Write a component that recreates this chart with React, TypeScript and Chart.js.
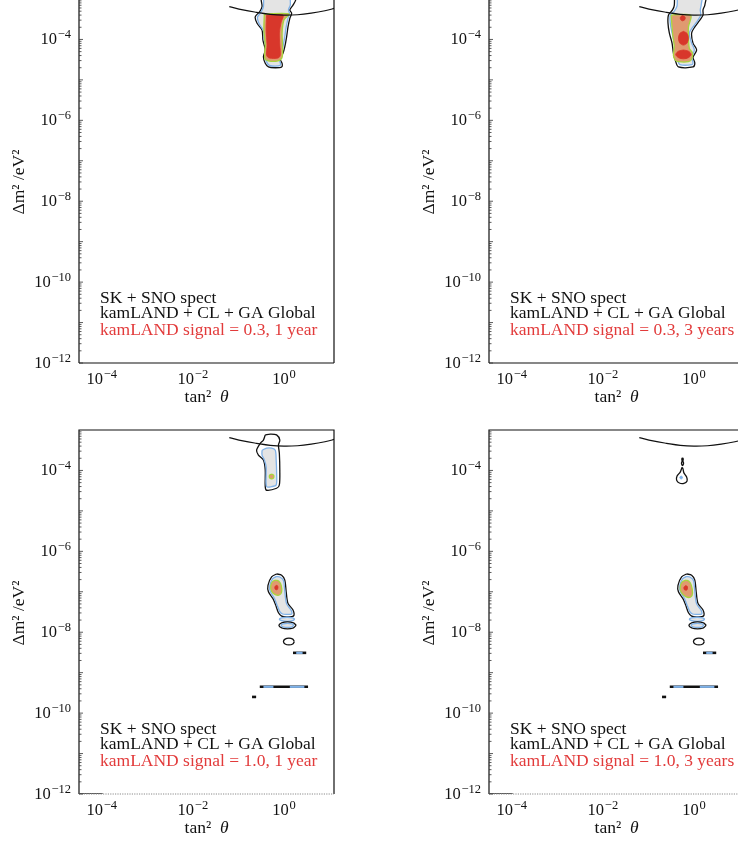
import React, { useEffect, useRef } from 'react';
import { Chart, registerables } from 'chart.js';

Chart.register(...registerables);

// Every point is [log10(tan² θ), log10(Δm² / eV²)]
type P = [number, number];

const X_RANGE_LOG: P = [-4.5, 1.1];
const Y_RANGE_LOG: P = [-12, -3];
const X_TICK_EXP = [-4, -2, 0];
const Y_TICK_EXP = [-4, -6, -8, -10, -12];
const LEGEND_LINES = ['SK + SNO spect', 'kamLAND + CL + GA Global'];
const SIGNAL_LABELS = [
  'kamLAND signal = 0.3, 1 year',
  'kamLAND signal = 0.3, 3 years',
  'kamLAND signal = 1.0, 1 year',
  'kamLAND signal = 1.0, 3 years',
];

// CHOOZ-type exclusion curve (same in every panel)
const choozCurve: P[] = [
  [-1.2, -3.19], [-0.9, -3.27], [-0.6, -3.33], [-0.3, -3.38], [0.0, -3.4],
  [0.3, -3.39], [0.6, -3.35], [0.9, -3.29], [1.15, -3.22],
];

// ---- Panel A: signal 0.3, 1 year
const aBlack: P[] = [
  [-0.5, -2.8], [-0.5, -3.02], [-0.48, -3.19], [-0.53, -3.31], [-0.63, -3.44], [-0.59, -3.6],
  [-0.48, -3.77], [-0.46, -4.02], [-0.41, -4.26], [-0.45, -4.43], [-0.41, -4.59], [-0.34, -4.68],
  [-0.19, -4.7], [-0.05, -4.68], [-0.04, -4.59], [-0.09, -4.47], [-0.02, -4.34], [0.02, -4.18],
  [0.06, -3.93], [0.09, -3.69], [0.13, -3.48], [0.17, -3.35], [0.13, -3.27], [0.2, -3.15],
  [0.26, -3.02], [0.28, -2.8],
];
const aBlue: P[] = [
  [-0.45, -2.8], [-0.45, -3.19], [-0.5, -3.32], [-0.58, -3.45], [-0.55, -3.6], [-0.45, -3.78],
  [-0.43, -4.02], [-0.38, -4.26], [-0.41, -4.43], [-0.37, -4.58], [-0.32, -4.64], [-0.19, -4.66],
  [-0.08, -4.64], [-0.08, -4.57], [-0.12, -4.46], [-0.05, -4.33], [-0.02, -4.18], [0.02, -3.93],
  [0.05, -3.69], [0.09, -3.48], [0.12, -3.35], [0.1, -3.27], [0.14, -3.15], [0.14, -3.02], [0.15, -2.8],
];
const aGreen: P[] = [
  [-0.43, -3.37], [-0.44, -3.77], [-0.41, -4.14], [-0.42, -4.46], [-0.34, -4.53], [-0.13, -4.53],
  [-0.04, -4.44], [-0.03, -4.14], [-0.04, -3.84], [0.0, -3.52], [0.11, -3.37],
];
const aRed: P[] = [
  [-0.38, -3.4], [-0.39, -3.77], [-0.37, -4.14], [-0.38, -4.39], [-0.32, -4.46], [-0.13, -4.46],
  [-0.08, -4.39], [-0.09, -4.14], [-0.1, -3.84], [-0.06, -3.57], [-0.02, -3.4],
];

// ---- Panel B: signal 0.3, 3 years
const bBlack: P[] = [
  [-0.43, -2.8], [-0.43, -3.15], [-0.47, -3.27], [-0.56, -3.4], [-0.57, -3.59], [-0.54, -3.84],
  [-0.48, -4.09], [-0.45, -4.34], [-0.41, -4.51], [-0.34, -4.68], [-0.02, -4.68], [0.02, -4.58],
  [-0.02, -4.44], [0.06, -4.26], [-0.02, -4.09], [-0.05, -3.84], [0.02, -3.69], [0.13, -3.52],
  [0.2, -3.4], [0.2, -3.27], [0.24, -3.15], [0.26, -2.8],
];
const bBlue: P[] = [
  [-0.37, -2.8], [-0.37, -3.17], [-0.43, -3.3], [-0.52, -3.4], [-0.52, -3.59], [-0.48, -3.84],
  [-0.43, -4.09], [-0.4, -4.34], [-0.36, -4.5], [-0.31, -4.62], [-0.04, -4.62], [-0.02, -4.56],
  [-0.05, -4.44], [0.01, -4.26], [-0.05, -4.09], [-0.1, -3.84], [-0.02, -3.69], [0.09, -3.52],
  [0.15, -3.4], [0.14, -3.27], [0.16, -3.15], [0.17, -2.8],
];
const bGreen: P[] = [
  [-0.5, -3.4], [-0.48, -3.69], [-0.46, -3.93], [-0.43, -4.18], [-0.45, -4.39], [-0.41, -4.51],
  [-0.34, -4.55], [-0.12, -4.55], [-0.05, -4.49], [-0.03, -4.34], [-0.1, -4.22], [-0.12, -3.93],
  [-0.12, -3.69], [-0.07, -3.4],
];
const bRed1: P[] = [
  [-0.25, -3.41], [-0.2, -3.44], [-0.19, -3.47], [-0.2, -3.51], [-0.25, -3.54], [-0.29, -3.51],
  [-0.3, -3.47], [-0.29, -3.44],
];
const bRed2: P[] = [
  [-0.23, -3.8], [-0.15, -3.85], [-0.12, -3.97], [-0.15, -4.09], [-0.23, -4.14], [-0.31, -4.09],
  [-0.34, -3.97], [-0.31, -3.85],
];
const bRed3: P[] = [
  [-0.23, -4.26], [-0.12, -4.29], [-0.06, -4.37], [-0.12, -4.45], [-0.23, -4.48], [-0.34, -4.45],
  [-0.4, -4.37], [-0.34, -4.29],
];

// ---- Panel C: signal 1.0, 1 year
const cUpperBlack: P[] = [
  [-0.41, -3.12], [-0.3, -3.1], [-0.16, -3.12], [-0.09, -3.25], [-0.12, -3.37], [-0.1, -3.58],
  [-0.09, -3.99], [-0.1, -4.36], [-0.16, -4.44], [-0.38, -4.49], [-0.41, -4.4], [-0.41, -3.99],
  [-0.45, -3.74], [-0.56, -3.62], [-0.6, -3.5], [-0.52, -3.33], [-0.45, -3.25],
];
const cUpperBlue: P[] = [
  [-0.48, -3.5], [-0.38, -3.45], [-0.27, -3.45], [-0.19, -3.5], [-0.17, -3.74], [-0.16, -4.07],
  [-0.17, -4.36], [-0.27, -4.4], [-0.38, -4.4], [-0.39, -4.07], [-0.39, -3.91], [-0.43, -3.74],
  [-0.48, -3.62],
];
const cUpperGreen: P[] = [
  [-0.27, -4.09], [-0.23, -4.11], [-0.22, -4.15], [-0.23, -4.19], [-0.27, -4.21], [-0.31, -4.19],
  [-0.32, -4.15], [-0.31, -4.11],
];
const cLowerGreen: P[] = [
  [-0.17, -6.71], [-0.25, -6.75], [-0.29, -6.86], [-0.27, -6.99], [-0.19, -7.07], [-0.1, -7.08],
  [-0.05, -7.0], [-0.06, -6.84], [-0.11, -6.74],
];
const cLowerOrange: P[] = [
  [-0.17, -6.76], [-0.23, -6.8], [-0.25, -6.89], [-0.23, -6.98], [-0.17, -7.02], [-0.11, -7.0],
  [-0.09, -6.9], [-0.11, -6.8],
];
const cLowerRed: P[] = [
  [-0.17, -6.84], [-0.2, -6.88], [-0.19, -6.94], [-0.15, -6.95], [-0.13, -6.9], [-0.14, -6.85],
];

// ---- Panel D: signal 1.0, 3 years
const dTear: P[] = [
  [-0.26, -3.92], [-0.3, -4.04], [-0.37, -4.14], [-0.38, -4.24], [-0.32, -4.31], [-0.22, -4.32],
  [-0.15, -4.26], [-0.16, -4.16], [-0.22, -4.06], [-0.24, -3.96],
];
const dStem: P[] = [
  [-0.25, -3.77], [-0.23, -3.8], [-0.23, -3.84], [-0.25, -3.88], [-0.27, -3.84], [-0.27, -3.8],
];
const dDot: P[] = [[-0.25, -3.71], [-0.25, -3.74]];
const dBlueSpot: P[] = [
  [-0.28, -4.14], [-0.26, -4.15], [-0.25, -4.17], [-0.26, -4.2], [-0.28, -4.21], [-0.3, -4.2],
  [-0.31, -4.17], [-0.3, -4.15],
];
const dLowerGreen: P[] = [
  [-0.17, -6.71], [-0.26, -6.76], [-0.3, -6.88], [-0.28, -7.01], [-0.18, -7.12], [-0.07, -7.13],
  [-0.03, -7.03], [-0.06, -6.83], [-0.11, -6.74],
];
const dLowerOrange: P[] = [
  [-0.18, -6.78], [-0.24, -6.82], [-0.26, -6.91], [-0.23, -7.0], [-0.16, -7.04], [-0.1, -7.0],
  [-0.09, -6.9], [-0.12, -6.8],
];
const dLowerRed: P[] = [
  [-0.19, -6.85], [-0.22, -6.89], [-0.21, -6.95], [-0.16, -6.96], [-0.14, -6.91], [-0.15, -6.86],
];

// ---- Shared low-Δm² structures of the signal = 1.0 panels
const sig10LowerBlack: P[] = [
  [-0.16, -6.56], [-0.27, -6.63], [-0.35, -6.84], [-0.34, -7.0], [-0.24, -7.17], [-0.18, -7.33],
  [-0.12, -7.52], [-0.05, -7.6], [0.06, -7.62], [0.21, -7.6], [0.2, -7.45], [0.09, -7.29],
  [0.05, -7.0], [0.02, -6.71], [-0.05, -6.59],
];
const sig10LowerBlue: P[] = [
  [-0.16, -6.62], [-0.25, -6.68], [-0.31, -6.85], [-0.3, -6.99], [-0.21, -7.16], [-0.15, -7.33],
  [-0.09, -7.49], [-0.03, -7.55], [0.06, -7.56], [0.17, -7.55], [0.16, -7.46], [0.06, -7.3],
  [0.02, -7.0], [-0.01, -6.72], [-0.08, -6.64],
];
const sig10Ellipse1: P[] = [
  [0.24, -7.68], [0.19, -7.645], [0.07, -7.63], [-0.05, -7.645], [-0.1, -7.68], [-0.05, -7.715],
  [0.07, -7.73], [0.19, -7.715],
];
const sig10Ellipse2Black: P[] = [
  [0.27, -7.83], [0.21, -7.77], [0.08, -7.745], [-0.05, -7.77], [-0.11, -7.83], [-0.05, -7.89],
  [0.08, -7.915], [0.21, -7.89],
];
const sig10Ellipse2Blue: P[] = [
  [0.22, -7.83], [0.18, -7.795], [0.08, -7.78], [-0.02, -7.795], [-0.06, -7.83], [-0.02, -7.865],
  [0.08, -7.88], [0.18, -7.865],
];
const sig10Ellipse3Black: P[] = [
  [0.23, -8.23], [0.195, -8.17], [0.11, -8.145], [0.025, -8.17], [-0.01, -8.23], [0.025, -8.29],
  [0.11, -8.315], [0.195, -8.29],
];
const sig10ShortBar: P[] = [[0.2, -8.51], [0.49, -8.51]];
const sig10ShortBarBlue: P[] = [[0.27, -8.51], [0.41, -8.51]];
const sig10LongBar: P[] = [[-0.53, -9.35], [0.53, -9.35]];
const sig10LongBarBlue1: P[] = [[-0.45, -9.35], [-0.23, -9.35]];
const sig10LongBarBlue2: P[] = [[0.13, -9.35], [0.45, -9.35]];
const sig10Dash: P[] = [[-0.7, -9.6], [-0.61, -9.6]];
const sig10EdgeSegment: P[] = [[-4.5, -12], [-3.98, -12]];

type Kind = 'black' | 'blue' | 'blueSolid' | 'green' | 'orange' | 'red' | 'curve' | 'bar' | 'barBlue' | 'edge';
type Layer = { pts: P[]; kind: Kind };

const BLUE = '#80b2e8';
const GREY = '#e4e4e4';
const GREEN = '#a8d43c';
const SALMON = '#e09a70';
const RED = '#d8372b';

const STYLES: Record<Kind, { borderColor: string; borderWidth: number; bg?: string; fill: any; closed: boolean; tension: number }> = {
  black: { borderColor: '#111111', borderWidth: 1.3, fill: false, closed: true, tension: 0.3 },
  blue: { borderColor: BLUE, borderWidth: 1.3, bg: GREY, fill: 'shape', closed: true, tension: 0.3 },
  blueSolid: { borderColor: BLUE, borderWidth: 1, bg: BLUE, fill: 'shape', closed: true, tension: 0.3 },
  green: { borderColor: GREEN, borderWidth: 1.3, bg: SALMON, fill: 'shape', closed: true, tension: 0.3 },
  orange: { borderColor: SALMON, borderWidth: 0.8, bg: SALMON, fill: 'shape', closed: true, tension: 0.3 },
  red: { borderColor: RED, borderWidth: 0.8, bg: RED, fill: 'shape', closed: true, tension: 0.3 },
  curve: { borderColor: '#111111', borderWidth: 1.2, fill: false, closed: false, tension: 0.4 },
  bar: { borderColor: '#111111', borderWidth: 2.6, fill: false, closed: false, tension: 0 },
  barBlue: { borderColor: BLUE, borderWidth: 2.2, fill: false, closed: false, tension: 0 },
  edge: { borderColor: '#111111', borderWidth: 1.4, fill: false, closed: false, tension: 0 },
};

type PanelCfg = { left: number; top: number; label: string; dottedBottom: boolean; layers: Layer[] };

const sig10Layers = (green: P[], orange: P[], red: P[]): Layer[] => [
  { pts: sig10LowerBlack, kind: 'black' },
  { pts: sig10LowerBlue, kind: 'blue' },
  { pts: green, kind: 'green' },
  { pts: orange, kind: 'orange' },
  { pts: red, kind: 'red' },
  { pts: sig10Ellipse1, kind: 'blue' },
  { pts: sig10Ellipse2Black, kind: 'black' },
  { pts: sig10Ellipse2Blue, kind: 'blue' },
  { pts: sig10Ellipse3Black, kind: 'black' },
  { pts: sig10ShortBar, kind: 'bar' },
  { pts: sig10ShortBarBlue, kind: 'barBlue' },
  { pts: sig10LongBar, kind: 'bar' },
  { pts: sig10LongBarBlue1, kind: 'barBlue' },
  { pts: sig10LongBarBlue2, kind: 'barBlue' },
  { pts: sig10Dash, kind: 'bar' },
  { pts: sig10EdgeSegment, kind: 'edge' },
];

const PANELS: PanelCfg[] = [
  {
    left: 0, top: -20, label: SIGNAL_LABELS[0], dottedBottom: false,
    layers: [
      { pts: aBlack, kind: 'black' },
      { pts: aBlue, kind: 'blue' },
      { pts: aGreen, kind: 'green' },
      { pts: aRed, kind: 'red' },
      { pts: choozCurve, kind: 'curve' },
    ],
  },
  {
    left: 410, top: -20, label: SIGNAL_LABELS[1], dottedBottom: false,
    layers: [
      { pts: bBlack, kind: 'black' },
      { pts: bBlue, kind: 'blue' },
      { pts: bGreen, kind: 'green' },
      { pts: bRed1, kind: 'red' },
      { pts: bRed2, kind: 'red' },
      { pts: bRed3, kind: 'red' },
      { pts: choozCurve, kind: 'curve' },
    ],
  },
  {
    left: 0, top: 411, label: SIGNAL_LABELS[2], dottedBottom: true,
    layers: [
      { pts: cUpperBlack, kind: 'black' },
      { pts: cUpperBlue, kind: 'blue' },
      { pts: cUpperGreen, kind: 'green' },
      ...sig10Layers(cLowerGreen, cLowerOrange, cLowerRed),
      { pts: choozCurve, kind: 'curve' },
    ],
  },
  {
    left: 410, top: 411, label: SIGNAL_LABELS[3], dottedBottom: true,
    layers: [
      { pts: dTear, kind: 'black' },
      { pts: dStem, kind: 'black' },
      { pts: dDot, kind: 'bar' },
      { pts: dBlueSpot, kind: 'blueSolid' },
      ...sig10Layers(dLowerGreen, dLowerOrange, dLowerRed),
      { pts: choozCurve, kind: 'curve' },
    ],
  },
];

const toData = (pts: P[], closed: boolean) => {
  const d = pts.map(([lx, ly]) => ({ x: Math.pow(10, lx), y: Math.pow(10, ly) }));
  if (closed && d.length > 2) d.push({ ...d[0] });
  return d;
};

const SERIF = "'Liberation Serif', 'Times New Roman', serif";
const BASE_FONT = `16.5px ${SERIF}`;
const EXP_FONT = `12.5px ${SERIF}`;

function drawPow(ctx: CanvasRenderingContext2D, exp: number, x: number, baseline: number, align: 'right' | 'center') {
  const expStr = exp < 0 ? '\u2212' + String(-exp) : String(exp);
  ctx.font = BASE_FONT;
  const wb = ctx.measureText('10').width;
  ctx.font = EXP_FONT;
  const we = ctx.measureText(expStr).width;
  const gap = 0.8;
  const total = wb + gap + we;
  const x0 = align === 'right' ? x - total : x - total / 2;
  ctx.textAlign = 'left';
  ctx.textBaseline = 'alphabetic';
  ctx.font = BASE_FONT;
  ctx.fillText('10', x0, baseline);
  ctx.font = EXP_FONT;
  ctx.fillText(expStr, x0 + wb + gap, baseline - 6.5);
}

function decorPlugin(cfg: PanelCfg) {
  return {
    id: 'decor',
    afterDraw(chart: any) {
      const { ctx, chartArea: a, scales } = chart;
      const xs = scales.x;
      const ys = scales.y;
      ctx.save();
      // frame
      ctx.setLineDash([]);
      ctx.strokeStyle = '#111111';
      ctx.lineWidth = 1.2;
      ctx.beginPath();
      ctx.moveTo(a.left, a.bottom);
      ctx.lineTo(a.left, a.top);
      ctx.lineTo(a.right, a.top);
      ctx.lineTo(a.right, a.bottom);
      ctx.stroke();
      ctx.beginPath();
      if (cfg.dottedBottom) {
        ctx.strokeStyle = '#8a8a8a';
        ctx.lineWidth = 1;
        ctx.setLineDash([1.2, 1.2]);
      }
      ctx.moveTo(a.left, a.bottom);
      ctx.lineTo(a.right, a.bottom);
      ctx.stroke();
      ctx.setLineDash([]);

      // inward log ticks on the left spine
      ctx.strokeStyle = '#333333';
      ctx.lineWidth = 0.8;
      for (let e = Y_RANGE_LOG[0]; e < Y_RANGE_LOG[1]; e++) {
        for (let k = 1; k <= 9; k++) {
          const py = ys.getPixelForValue(k * Math.pow(10, e));
          const len = k === 1 ? 4 : 2.5;
          ctx.beginPath();
          ctx.moveTo(a.left, py);
          ctx.lineTo(a.left + len, py);
          ctx.stroke();
        }
      }

      // tick labels
      ctx.fillStyle = '#111111';
      for (const e of Y_TICK_EXP) {
        const py = ys.getPixelForValue(Math.pow(10, e));
        drawPow(ctx, e, a.left - 8, py + 5, 'right');
      }
      for (const e of X_TICK_EXP) {
        const px = xs.getPixelForValue(Math.pow(10, e));
        drawPow(ctx, e, px, a.bottom + 21, 'center');
      }

      // axis titles
      ctx.font = `17.5px ${SERIF}`;
      ctx.textBaseline = 'middle';
      ctx.textAlign = 'center';
      ctx.save();
      ctx.translate(a.left - 60, (a.top + a.bottom) / 2 + 1);
      ctx.rotate(-Math.PI / 2);
      ctx.fillText('\u0394m\u00B2 /eV\u00B2', 0, 0);
      ctx.restore();

      const part1 = 'tan\u00B2  ';
      const part2 = '\u03B8';
      ctx.font = `17.5px ${SERIF}`;
      const w1 = ctx.measureText(part1).width;
      ctx.font = `italic 17.5px ${SERIF}`;
      const w2 = ctx.measureText(part2).width;
      const cx = (a.left + a.right) / 2;
      const x0 = cx - (w1 + w2) / 2;
      ctx.textAlign = 'left';
      ctx.font = `17.5px ${SERIF}`;
      ctx.fillText(part1, x0, a.bottom + 34);
      ctx.font = `italic 17.5px ${SERIF}`;
      ctx.fillText(part2, x0 + w1, a.bottom + 34);

      // in-plot annotation
      ctx.font = `17.5px ${SERIF}`;
      ctx.textAlign = 'left';
      ctx.textBaseline = 'middle';
      ctx.fillStyle = '#111111';
      ctx.fillText(LEGEND_LINES[0], a.left + 21, a.bottom - 65);
      ctx.fillText(LEGEND_LINES[1], a.left + 21, a.bottom - 49.5);
      ctx.fillStyle = '#e23b3b';
      ctx.fillText(cfg.label, a.left + 21, a.bottom - 33);
      ctx.restore();
    },
  };
}

function Panel({ cfg }: { cfg: PanelCfg }) {
  const ref = useRef<HTMLCanvasElement>(null);
  useEffect(() => {
    const canvas = ref.current;
    if (!canvas) return;
    const n = cfg.layers.length;
    const datasets = cfg.layers.map((l, i) => {
      const s = STYLES[l.kind];
      return {
        data: toData(l.pts, s.closed),
        showLine: true,
        pointRadius: 0,
        pointHoverRadius: 0,
        pointHitRadius: 0,
        borderColor: s.borderColor,
        borderWidth: s.borderWidth,
        backgroundColor: s.bg ?? 'rgba(0,0,0,0)',
        fill: s.fill,
        tension: s.tension,
        borderCapStyle: 'butt',
        borderJoinStyle: 'round',
        order: n - i,
      };
    });
    const chart = new Chart(canvas, {
      type: 'line',
      data: { datasets } as any,
      options: {
        animation: false,
        responsive: false,
        events: [],
        layout: { padding: { left: 79, right: 36, top: 19, bottom: 68 } },
        elements: { line: { capBezierPoints: false } as any },
        plugins: { legend: { display: false }, tooltip: { enabled: false } },
        scales: {
          x: {
            type: 'logarithmic',
            display: false,
            bounds: 'data',
            min: Math.pow(10, X_RANGE_LOG[0]),
            max: Math.pow(10, X_RANGE_LOG[1]),
          },
          y: {
            type: 'logarithmic',
            display: false,
            bounds: 'data',
            min: Math.pow(10, Y_RANGE_LOG[0]),
            max: Math.pow(10, Y_RANGE_LOG[1]),
          },
        },
      } as any,
      plugins: [decorPlugin(cfg)],
    });
    return () => chart.destroy();
  }, [cfg]);
  return (
    <canvas
      ref={ref}
      width={370}
      height={451}
      style={{ position: 'absolute', left: cfg.left, top: cfg.top, width: 370, height: 451 }}
    />
  );
}

export default function App() {
  return (
    <div
      style={{
        position: 'absolute',
        left: 0,
        top: 0,
        width: 738,
        height: 842,
        overflow: 'hidden',
        background: '#ffffff',
      }}
    >
      {PANELS.map((p, i) => (
        <Panel key={i} cfg={p} />
      ))}
    </div>
  );
}
